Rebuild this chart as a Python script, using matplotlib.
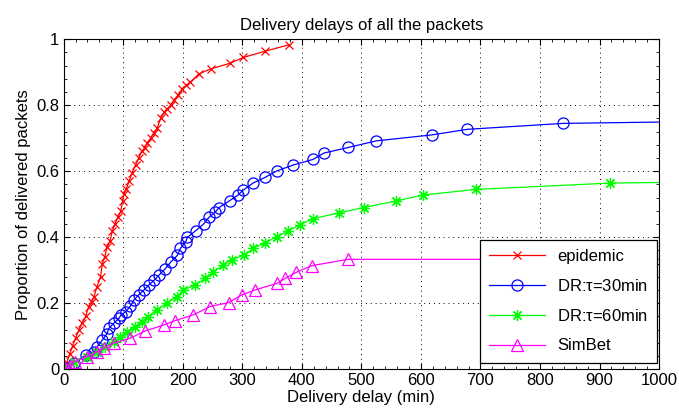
import matplotlib
matplotlib.use('Agg')
import matplotlib.pyplot as plt
from matplotlib.ticker import AutoMinorLocator

plt.rcParams['font.family'] = ['Liberation Sans', 'DejaVu Sans']
plt.rcParams['font.size'] = 12
plt.rcParams['mathtext.fontset'] = 'custom'
plt.rcParams['mathtext.rm'] = 'Liberation Sans'
plt.rcParams['mathtext.it'] = 'Liberation Sans'

# epidemic
red_x = [0, 5, 10, 15, 20, 26, 31, 37, 42, 47, 51, 56, 62, 65, 69, 73, 78, 82, 86, 91,
         96, 99, 101, 105, 110, 115, 121, 126, 131, 136, 140, 146, 151, 157, 163, 169,
         174, 180, 185, 192, 199, 206, 213, 227, 247, 279, 302, 339, 378]
red_y = [0, 0.018, 0.045, 0.07, 0.094, 0.12, 0.14, 0.16, 0.19, 0.205, 0.22, 0.25, 0.28,
         0.32, 0.34, 0.37, 0.39, 0.42, 0.44, 0.46, 0.48, 0.51, 0.53, 0.545, 0.57, 0.595,
         0.62, 0.64, 0.66, 0.67, 0.685, 0.70, 0.715, 0.73, 0.76, 0.78, 0.79, 0.80, 0.815,
         0.83, 0.85, 0.86, 0.87, 0.895, 0.91, 0.927, 0.945, 0.964, 0.983]

# DR tau=30min
blue_x = [0, 17, 37, 51, 56, 65, 73, 76, 84, 93, 96, 104, 112, 118, 126, 135, 143, 152,
          160, 171, 180, 191, 196, 205, 208, 222, 235, 244, 255, 261, 279, 293, 302, 318,
          338, 358, 386, 419, 437, 478, 525, 618, 678, 839, 1000]
blue_y = [0.003, 0.018, 0.043, 0.053, 0.068, 0.088, 0.108, 0.124, 0.139, 0.154, 0.164,
          0.174, 0.191, 0.21, 0.225, 0.24, 0.255, 0.27, 0.285, 0.305, 0.325, 0.345, 0.366,
          0.386, 0.40, 0.42, 0.44, 0.46, 0.477, 0.49, 0.511, 0.528, 0.543, 0.564, 0.581,
          0.601, 0.619, 0.636, 0.655, 0.672, 0.692, 0.71, 0.727, 0.745, 0.749]

# DR tau=60min
green_x = [0, 17, 39, 56, 70, 84, 95, 106, 120, 131, 142, 156, 173, 190, 201, 221, 238,
           251, 268, 283, 303, 318, 338, 358, 377, 397, 418, 463, 504, 559, 604, 693, 917,
           1000]
green_y = [0.003, 0.023, 0.038, 0.053, 0.068, 0.084, 0.099, 0.114, 0.129, 0.144, 0.159,
           0.18, 0.2, 0.22, 0.24, 0.255, 0.276, 0.294, 0.316, 0.332, 0.346, 0.366, 0.383,
           0.401, 0.42, 0.437, 0.456, 0.474, 0.49, 0.51, 0.528, 0.545, 0.564, 0.566]

# SimBet
mag_x = [2, 11, 19, 39, 56, 67, 84, 112, 137, 168, 187, 218, 246, 277, 299, 321, 358,
         372, 391, 417, 478, 1000]
mag_y = [0.003, 0.01, 0.023, 0.038, 0.053, 0.064, 0.079, 0.094, 0.116, 0.134, 0.147,
         0.165, 0.19, 0.202, 0.225, 0.24, 0.26, 0.275, 0.294, 0.314, 0.333, 0.333]

labels = ['epidemic', r'DR:$\tau$=30min', r'DR:$\tau$=60min', 'SimBet']
xticks = [0, 100, 200, 300, 400, 500, 600, 700, 800, 900, 1000]
yticks = [0, 0.2, 0.4, 0.6, 0.8, 1]
ytick_labels = ['0', '0.2', '0.4', '0.6', '0.8', '1']

fig = plt.figure(figsize=(6.79, 4.13), dpi=100)
ax = fig.add_axes([0.0937, 0.106, 0.877, 0.799])

lw = 0.9
ax.plot(red_x, red_y, color='#ff0000', lw=lw, marker='x', ms=6, mew=0.9, label=labels[0])
ax.plot(blue_x, blue_y, color='#0000ff', lw=lw, marker='o', ms=8, mfc='none', mew=0.9,
        markevery=slice(0, len(blue_x) - 1), label=labels[1])
ax.plot(green_x, green_y, color='#00ff00', lw=lw, marker=(8, 2, 0), ms=8, mew=0.9,
        markevery=slice(0, len(green_x) - 1), label=labels[2])
ax.plot(mag_x, mag_y, color='#ff00ff', lw=lw, marker='^', ms=8, mfc='none', mew=0.9,
        markevery=slice(0, len(mag_x) - 1), label=labels[3])

ax.set_xlim(0, 1000)
ax.set_ylim(0, 1)
ax.set_xticks(xticks)
ax.set_yticks(yticks, ytick_labels)
ax.xaxis.set_minor_locator(AutoMinorLocator(5))
ax.yaxis.set_minor_locator(AutoMinorLocator(5))
ax.tick_params(which='both', direction='in', top=True, right=True)
ax.tick_params(which='major', length=4, pad=3)
ax.tick_params(which='minor', length=2)
ax.grid(True, which='major', ls=(0, (1, 4)), color='black', lw=0.7)

ax.set_title('Delivery delays of all the packets', fontsize=12, pad=7)
ax.set_xlabel('Delivery delay (min)', labelpad=1)
ax.set_ylabel('Proportion of delivered packets', labelpad=4)

leg = ax.legend(loc='lower right', bbox_to_anchor=(0.997, 0.02), fancybox=False,
                edgecolor='black', framealpha=1, handlelength=3.4, borderpad=0.55,
                labelspacing=0.85, handletextpad=0.7, borderaxespad=0)
leg.get_frame().set_linewidth(0.9)

fig.savefig('out.png', dpi=100)
